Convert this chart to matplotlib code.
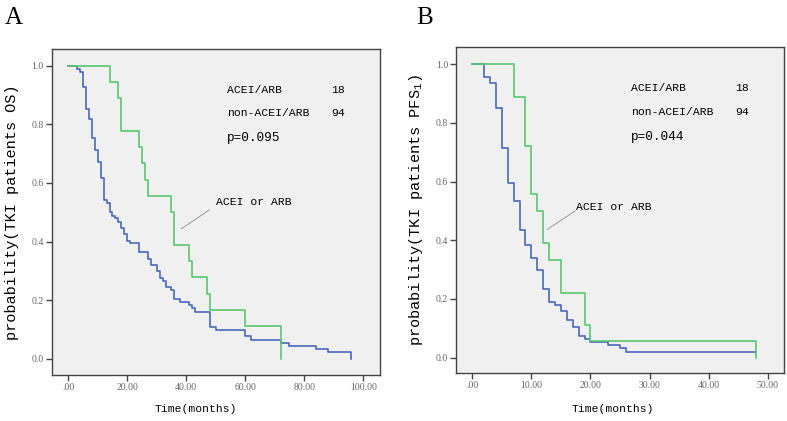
import matplotlib
matplotlib.use("Agg")
import matplotlib.pyplot as plt
from matplotlib.ticker import FuncFormatter

plt.rcParams['mathtext.default'] = 'regular'

# panel A: overall survival
os_acei_t = [0, 14, 17, 18, 24, 25, 26, 27, 35, 36, 41, 42, 47, 48, 60, 72]
os_acei_s = [1, .944, .889, .778, .722, .667, .611, .556, .5, .389, .333, .278, .222, .167, .111, 0]
os_non_t = [0, 3, 4, 5, 6, 7, 8, 9, 10, 11, 12, 13, 14, 15, 16, 17, 18, 19, 20, 21,
            24, 27, 28, 30, 31, 32, 33, 35, 36, 38, 41, 42, 43, 48, 50, 60, 62, 72,
            75, 84, 88, 96]
os_non_s = [1, .989, .979, .926, .851, .819, .755, .713, .670, .617, .543, .532, .500,
            .489, .479, .468, .447, .425, .403, .394, .364, .341, .320, .299, .277,
            .266, .245, .235, .203, .194, .184, .173, .161, .108, .097, .077, .065,
            .055, .044, .034, .024, 0]

# panel B: progression-free survival
pfs_acei_t = [0, 7, 9, 10, 11, 12, 13, 15, 19, 20, 48]
pfs_acei_s = [1, .889, .722, .556, .5, .389, .333, .222, .111, .056, 0]
pfs_non_t = [0, 2, 3, 4, 5, 6, 7, 8, 9, 10, 11, 12, 13, 14, 15, 16, 17, 18, 19, 20,
             23, 25, 26, 48]
pfs_non_s = [1, .957, .936, .851, .713, .596, .532, .436, .383, .340, .298, .234,
             .191, .181, .160, .128, .106, .074, .064, .053, .043, .032, .021, .021]

blue = '#4a68c0'
green = '#58c870'
lab_font = 'Liberation Mono'
tick_font = 'Liberation Serif'

fig = plt.figure(figsize=(7.87, 4.21), dpi=100)
axA = fig.add_axes([0.0661, 0.1093, 0.4168, 0.7743])
axB = fig.add_axes([0.5798, 0.1140, 0.4168, 0.7743])


def style(ax, xmax_tick, step, xlim, ylim):
    ax.set_facecolor('#f0f0f0')
    for s in ax.spines.values():
        s.set_color('#444444')
        s.set_linewidth(1.0)
    ax.set_xlim(xlim)
    ax.set_ylim(ylim)
    ax.set_xticks(range(0, xmax_tick + 1, step))
    ax.set_yticks([0, .2, .4, .6, .8, 1.0])
    ax.xaxis.set_major_formatter(FuncFormatter(lambda v, p: '.00' if v == 0 else '%.2f' % v))
    ax.yaxis.set_major_formatter(FuncFormatter(lambda v, p: '%.1f' % v))
    ax.tick_params(direction='out', length=4, width=1, color='#444444',
                   labelsize=7, labelcolor='#666666', pad=2)
    for lbl in ax.get_xticklabels() + ax.get_yticklabels():
        lbl.set_family(tick_font)


def panel(ax, t_non, s_non, t_acei, s_acei, p_text, ylab, yl_x, xl_x, xl_y,
          txt_x, right_x, lab_xy, line_from, line_to):
    ax.step(t_non, s_non, where='post', color=blue, lw=1.2)
    ax.step(t_acei, s_acei, where='post', color=green, lw=1.2)
    ax.set_ylabel(ylab, family=lab_font, fontsize=11)
    ax.yaxis.set_label_coords(yl_x, 0.5)
    ax.set_xlabel('Time(months)', family=lab_font, fontsize=8.2)
    ax.xaxis.set_label_coords(xl_x, xl_y)
    ax.text(txt_x, 0.918, 'ACEI/ARB', family=lab_font, fontsize=8.2, va='center')
    ax.text(right_x, 0.918, '18', family=lab_font, fontsize=8.2, va='center', ha='right')
    ax.text(txt_x, 0.837, 'non-ACEI/ARB', family=lab_font, fontsize=8.2, va='center')
    ax.text(right_x, 0.837, '94', family=lab_font, fontsize=8.2, va='center', ha='right')
    ax.text(txt_x, 0.752, p_text, family=lab_font, fontsize=9.2, va='center')
    ax.text(lab_xy[0], lab_xy[1], 'ACEI or ARB', family=lab_font, fontsize=8.2, va='center')
    ax.plot([line_from[0], line_to[0]], [line_from[1], line_to[1]],
            color='#999999', lw=0.7)


style(axA, 100, 20, (-5.5, 105.7), (-0.055, 1.057))
style(axB, 50, 10, (-2.7, 52.8), (-0.052, 1.058))

panel(axA, os_non_t, os_non_s, os_acei_t, os_acei_s, 'p=0.095',
      'probability(TKI patients OS)', -0.10, 0.438, -0.089,
      53.7, 93.8, (50.0, 0.535), (47.8, 0.508), (38.4, 0.444))
panel(axB, pfs_non_t, pfs_non_s, pfs_acei_t, pfs_acei_s, 'p=0.044',
      'probability(TKI patients PFS$_1$)', -0.095, 0.476, -0.095,
      26.8, 46.8, (17.6, 0.514), (17.4, 0.500), (12.7, 0.437))

fig.text(5 / 787, 1 - 7 / 421, 'A', family=tick_font, fontsize=18, va='top')
fig.text(416 / 787, 1 - 7 / 421, 'B', family=tick_font, fontsize=18, va='top')

fig.savefig('out.png', dpi=100)
